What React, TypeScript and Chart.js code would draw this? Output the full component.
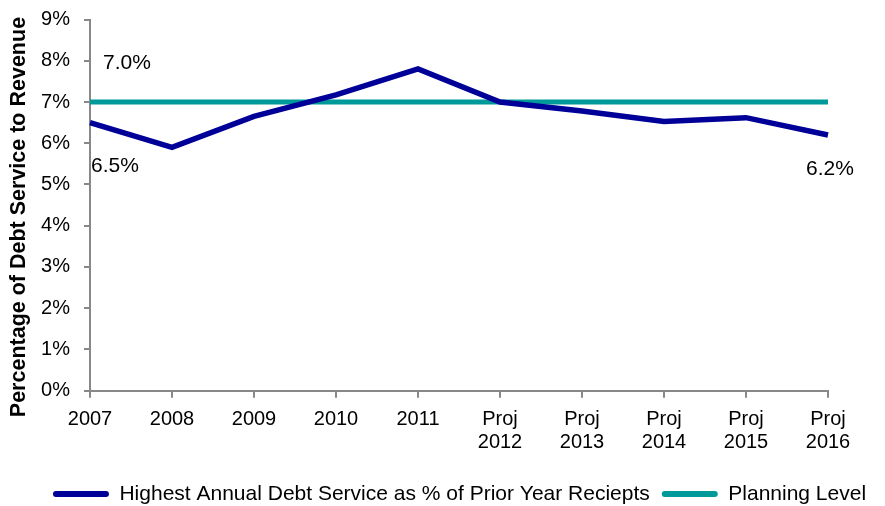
import React, { useEffect, useRef } from "react";
import { Chart, registerables } from "chart.js";

Chart.register(...registerables);

const categories: (string | string[])[] = [
  "2007", "2008", "2009", "2010", "2011",
  ["Proj", "2012"], ["Proj", "2013"], ["Proj", "2014"], ["Proj", "2015"], ["Proj", "2016"],
];
const debtService = [6.5, 5.9, 6.65, 7.17, 7.8, 7.0, 6.78, 6.53, 6.62, 6.2];
const planningLevel = [7.0, 7.0, 7.0, 7.0, 7.0, 7.0, 7.0, 7.0, 7.0, 7.0];
const seriesNames = ["Highest Annual Debt Service as % of Prior Year Reciepts", "Planning Level"];
const yTicks = [0, 1, 2, 3, 4, 5, 6, 7, 8, 9];
const yTitle = "Percentage of Debt Service to Revenue";

const FONT = "'Liberation Sans', Arial, sans-serif";
const NAVY = "#000099";
const TEAL = "#009999";
const AXIS = "#888888";

const labelPlugin = {
  id: "valueLabels",
  afterDatasetsDraw(chart: any) {
    const { ctx, scales } = chart;
    const xs = scales.x;
    const ys = scales.y;
    const last = debtService.length - 1;
    const items = [
      { t: planningLevel[0].toFixed(1) + "%", x: xs.getPixelForValue(0) + 37, y: ys.getPixelForValue(planningLevel[0]) - 39 },
      { t: debtService[0].toFixed(1) + "%", x: xs.getPixelForValue(0) + 25, y: ys.getPixelForValue(debtService[0]) + 44 },
      { t: debtService[last].toFixed(1) + "%", x: xs.getPixelForValue(last) + 2, y: ys.getPixelForValue(debtService[last]) + 34 },
    ];
    ctx.save();
    ctx.font = `21px ${FONT}`;
    ctx.fillStyle = "#000";
    ctx.textAlign = "center";
    ctx.textBaseline = "middle";
    for (const it of items) ctx.fillText(it.t, it.x, it.y);
    ctx.restore();
  },
};

export default function App() {
  const ref = useRef<HTMLCanvasElement>(null);
  useEffect(() => {
    const canvas = ref.current!;
    const chart = new Chart(canvas, {
      type: "line",
      data: {
        labels: categories as any,
        datasets: [
          {
            label: seriesNames[0],
            data: debtService,
            borderColor: NAVY,
            backgroundColor: NAVY,
            borderWidth: 5.5,
            pointRadius: 0,
            tension: 0,
          },
          {
            label: seriesNames[1],
            data: planningLevel,
            borderColor: TEAL,
            backgroundColor: TEAL,
            borderWidth: 5,
            pointRadius: 0,
            tension: 0,
          },
        ],
      },
      options: {
        responsive: false,
        animation: false,
        layout: { padding: { left: 34, right: 0, top: 19.5, bottom: -8.5 } },
        plugins: {
          tooltip: { enabled: false },
          legend: {
            position: "bottom",
            labels: {
              boxWidth: 56,
              boxHeight: 6,
              padding: 12,
              useBorderRadius: true,
              borderRadius: 3,
              color: "#000",
              font: { family: FONT, size: 21 },
              generateLabels: (chart: any) =>
                Chart.defaults.plugins.legend.labels.generateLabels(chart).map((it: any) => ({ ...it, lineWidth: 0 })),
            },
          },
        },
        scales: {
          x: {
            type: "category",
            offset: false,
            afterFit: (s: any) => { s.height = 80.8; s.paddingRight = 57; },
            grid: { display: true, drawOnChartArea: false, drawTicks: true, tickLength: 7, color: AXIS, lineWidth: 2 },
            border: { display: true, color: AXIS, width: 2 },
            ticks: { color: "#000", font: { family: FONT, size: 20, lineHeight: 1.15 }, padding: 10, maxRotation: 0, autoSkip: false },
          },
          y: {
            min: 0,
            max: 9,
            afterFit: (s: any) => { s.width = 56; s.paddingTop = 0; s.paddingBottom = 0; },
            afterBuildTicks: (s: any) => { s.ticks = yTicks.map((v) => ({ value: v })); },
            grid: { display: true, drawOnChartArea: false, drawTicks: true, tickLength: 6, color: AXIS, lineWidth: 2 },
            border: { display: true, color: AXIS, width: 2 },
            ticks: { color: "#000", font: { family: FONT, size: 20 }, padding: 14, callback: (v: any) => v + "%" },
            title: { display: true, text: yTitle + "    ", color: "#000", font: { family: FONT, size: 21.5, weight: "bold" }, padding: { top: -28, bottom: 0 } },
          },
        },
      },
      plugins: [labelPlugin],
    } as any);
    return () => chart.destroy();
  }, []);
  return (
    <div style={{ position: "absolute", left: 0, top: 0, width: 885, height: 506, background: "#fff" }}>
      <canvas ref={ref} width={885} height={506} />
    </div>
  );
}
